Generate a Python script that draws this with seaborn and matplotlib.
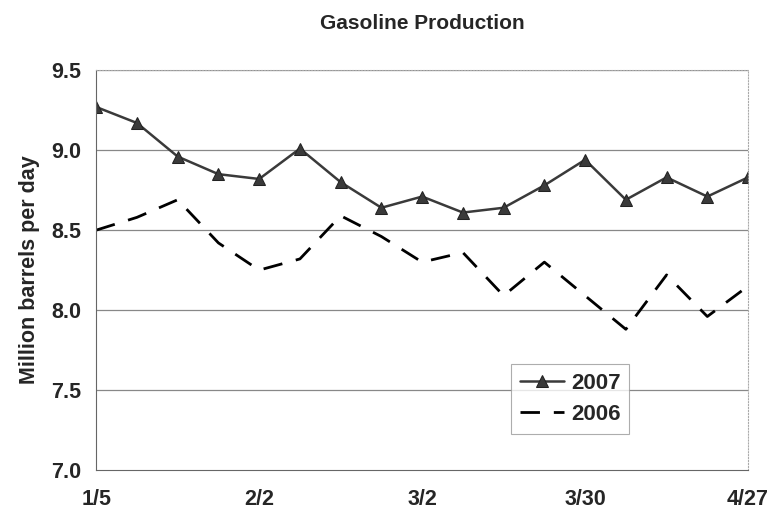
#!/usr/bin/env python3
import pandas as pd
import matplotlib
matplotlib.use('Agg')
import matplotlib.pyplot as plt
import seaborn as sns

# weekly dates, Jan 5 to Apr 27
weeks = ['1/5', '1/12', '1/19', '1/26', '2/2', '2/9', '2/16', '2/23', '3/2',
         '3/9', '3/16', '3/23', '3/30', '4/6', '4/13', '4/20', '4/27']
tick_labels = ['1/5', '2/2', '3/2', '3/30', '4/27']
prod_2007 = [9.27, 9.17, 8.96, 8.85, 8.82, 9.01, 8.80, 8.64, 8.71,
             8.61, 8.64, 8.78, 8.94, 8.69, 8.83, 8.71, 8.83]
prod_2006 = [8.50, 8.58, 8.69, 8.42, 8.25, 8.32, 8.59, 8.46, 8.30,
             8.36, 8.09, 8.30, 8.09, 7.88, 8.22, 7.96, 8.15]

df = pd.DataFrame({'week': range(len(weeks)), '2007': prod_2007, '2006': prod_2006})

sns.set_style('white')
plt.rcParams['font.family'] = ['Liberation Sans', 'DejaVu Sans']
plt.rcParams['font.weight'] = 'bold'

fig = plt.figure(figsize=(7.76, 5.24), dpi=100)
ax = fig.add_axes([0.124, 0.103, 0.84, 0.763])

for y in [7.5, 8.0, 8.5, 9.0, 9.5]:
    ax.axhline(y, color='#888888', lw=0.9, zorder=0)

sns.lineplot(data=df, x='week', y='2007', ax=ax, color='#3a3a3a', lw=1.8,
             marker='^', markersize=8, markeredgecolor='#222222', label='2007')
sns.lineplot(data=df, x='week', y='2006', ax=ax, color='black', lw=2.0,
             label='2006')
ax.lines[-1].set_dashes((7, 5))

ax.set_xlim(0, len(weeks) - 1)
ax.set_ylim(7.0, 9.5)
ax.set_yticks([7.0, 7.5, 8.0, 8.5, 9.0, 9.5])
ax.set_yticklabels([f'{v:.1f}' for v in [7.0, 7.5, 8.0, 8.5, 9.0, 9.5]])
ax.set_xticks([weeks.index(t) for t in tick_labels])
ax.set_xticklabels(tick_labels)
ax.tick_params(axis='both', labelsize=15.5, length=4, color='#888888', direction='out')
ax.tick_params(axis='x', pad=10)
ax.tick_params(axis='y', pad=7)
for lab in ax.get_xticklabels() + ax.get_yticklabels():
    lab.set_fontweight('bold')

for s in ax.spines.values():
    s.set_color('#aaaaaa')
    s.set_linewidth(0.8)
    s.set_linestyle(':')
ax.spines['left'].set_linestyle('-')
ax.spines['left'].set_color('#666666')
ax.spines['bottom'].set_linestyle('-')
ax.spines['bottom'].set_color('#666666')

ax.set_xlabel('')
ax.set_ylabel('Million barrels per day', fontsize=15.5, fontweight='bold', labelpad=8)
ax.set_title('Gasoline Production', fontsize=15, fontweight='bold', pad=30)

leg = ax.legend(loc='lower left', bbox_to_anchor=(0.636, 0.09), fontsize=16,
                frameon=True, fancybox=False, handlelength=2.0,
                handletextpad=0.3, borderpad=0.4, labelspacing=0.45,
                borderaxespad=0)
leg.get_frame().set_edgecolor('#999999')
leg.get_frame().set_linewidth(0.8)
for t in leg.get_texts():
    t.set_fontweight('bold')

plt.savefig('out.png', dpi=100)
plt.close()
